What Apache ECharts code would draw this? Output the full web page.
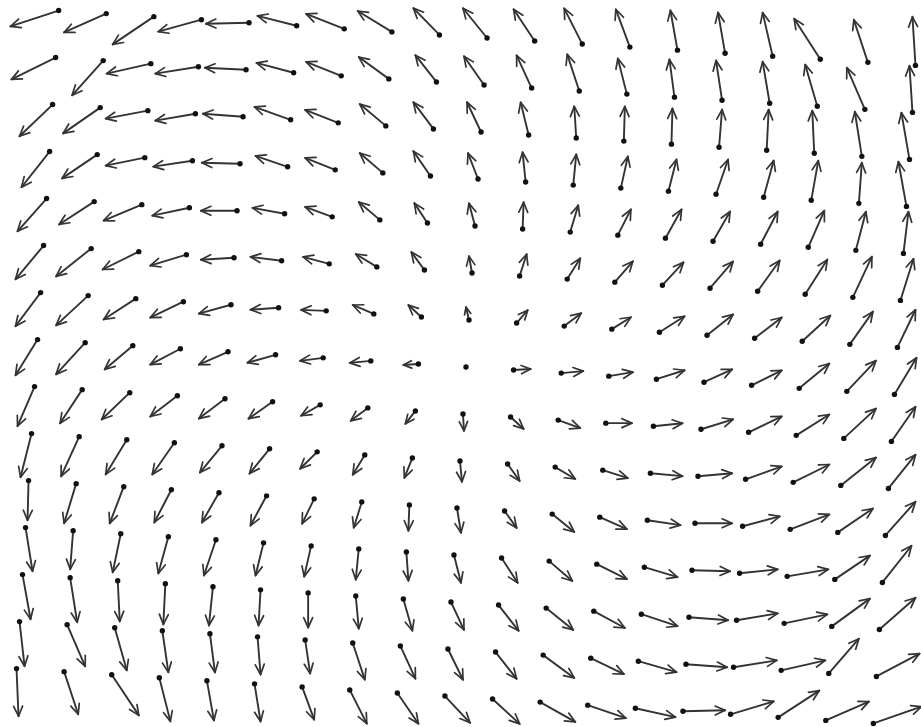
<!DOCTYPE html>
<html><head><meta charset="utf-8">
<script src="https://cdn.jsdelivr.net/npm/echarts@6/dist/echarts.min.js"></script>
<style>html,body{margin:0;padding:0;background:#fff}#c{width:921px;height:727px}</style>
</head><body><div id="c"></div>
<script>
// grid positions (columns left->right, rows top->bottom)
const xs = [-9,-8,-7,-6,-5,-4,-3,-2,-1,0,1,2,3,4,5,6,7,8,9];
const ys = [7,6,5,4,3,2,1,0,-1,-2,-3,-4,-5,-6,-7];

// horizontal components (rows top->bottom, columns left->right)
const U = [
[-48,-42,-41,-43,-43,-39,-38,-34,-26,-24,-21,-18,-14,-7,-7,-10,-26,-14,-3],
[-44,-31,-44,-43,-41,-37,-35,-30,-21,-20,-15,-12,-9,-5,-6,-7,-12,-18,-3],
[-33,-37,-42,-40,-40,-36,-33,-26,-20,-14,-8,-2,1,1,3,2,-2,-7,-8],
[-28,-35,-39,-39,-38,-32,-30,-23,-17,-10,-3,3,7,8,12,10,7,3,-8],
[-29,-35,-38,-37,-36,-32,-27,-21,-13,-6,1,8,13,16,17,17,16,10,5],
[-28,-35,-36,-36,-33,-31,-26,-21,-13,-3,7,13,18,21,23,22,22,19,13],
[-25,-32,-32,-33,-32,-28,-25,-21,-13,-3,11,17,19,25,26,27,28,23,18],
[-22,-29,-28,-30,-29,-28,-23,-21,-15,0,17,22,24,28,28,30,30,29,22],
[-17,-22,-28,-27,-26,-24,-19,-17,-10,1,13,22,26,29,32,33,33,32,24],
[-11,-18,-21,-22,-22,-20,-17,-12,-8,2,12,20,25,32,34,36,36,35,27],
[-1,-12,-14,-17,-17,-16,-12,-8,-1,4,12,22,27,33,37,37,39,35,30],
[7,-3,-8,-10,-12,-8,-7,-3,2,7,16,23,30,33,38,38,41,35,29],
[8,7,2,-2,-4,-2,0,3,9,13,20,27,31,36,39,41,43,38,36],
[5,18,12,6,5,3,5,12,15,15,21,31,33,38,41,43,44,30,43],
[2,14,27,11,7,6,12,17,21,25,27,35,38,40,42,43,41,43,48]
];
// vertical components (upward positive)
const V = [
[-16,-19,-28,-12,-1,10,15,21,27,30,32,36,38,40,41,44,41,43,49],
[-22,-35,-10,-7,2,10,14,22,27,29,33,37,36,38,40,42,42,42,47],
[-32,-26,-8,-7,3,13,13,22,27,30,33,32,35,36,38,41,43,45,47],
[-36,-24,-8,-6,1,11,12,20,25,26,30,31,32,32,35,37,40,41,45],
[-33,-23,-16,-8,0,6,10,18,20,23,27,27,26,29,30,33,37,39,42],
[-34,-28,-18,-11,-2,4,7,13,18,17,22,21,21,23,27,31,35,41,42],
[-34,-30,-21,-16,-9,-2,1,9,12,13,13,13,12,16,21,21,26,33,38],
[-36,-32,-24,-16,-13,-8,-3,-2,-1,0,1,2,4,9,13,15,25,31,37],
[-40,-34,-27,-21,-20,-17,-11,-13,-13,-17,-12,-8,0,3,10,16,21,30,35],
[-44,-40,-35,-32,-27,-25,-17,-20,-20,-21,-17,-12,-8,-3,3,13,18,28,34],
[-40,-40,-37,-33,-30,-30,-25,-26,-26,-25,-17,-18,-12,-5,0,10,15,24,34],
[-44,-39,-39,-37,-36,-33,-31,-31,-29,-28,-25,-20,-15,-10,-1,4,7,24,37],
[-45,-45,-41,-41,-39,-36,-35,-33,-32,-28,-26,-22,-17,-12,-3,7,9,28,32],
[-45,-42,-43,-42,-39,-38,-34,-37,-33,-31,-27,-23,-16,-11,-3,7,10,35,23],
[-48,-43,-41,-44,-40,-38,-33,-34,-31,-27,-25,-20,-13,-9,1,13,27,19,17]
];

const data = [];
for (let r = 0; r < ys.length; r++) {
  for (let c = 0; c < xs.length; c++) {
    data.push([xs[c], ys[r], U[r][c], V[r][c]]);
  }
}

const SCALE = 1 / 47.5;        // arrow length (grid cells) per unit
const TILT = Math.atan(0.064); // slight skew of the printed page
const HEAD = 11, HEAD_ANG = 0.42;
const INK = '#333333';

const chart = echarts.init(document.getElementById('c'), null, {renderer: 'canvas'});
chart.setOption({
  backgroundColor: '#ffffff',
  animation: false,
  grid: {left: 12.85, top: 13.75, width: 906.3, height: 706.5, containLabel: false},
  xAxis: {type: 'value', min: -9.5, max: 9.5, show: false},
  yAxis: {type: 'value', min: -7.5, max: 7.5, show: false},
  series: [{
    type: 'custom',
    clip: false,
    data: data,
    renderItem: function (params, api) {
      const x = api.value(0), y = api.value(1), u = api.value(2), v = api.value(3);
      const c0 = api.coord([0, 0]);
      const p = api.coord([x, y]);
      const cell = api.size([1, 1]);
      const cs = Math.cos(TILT), sn = Math.sin(TILT);
      const ox = p[0] - c0[0], oy = p[1] - c0[1];
      const tx = c0[0] + cs * ox - sn * oy;
      const ty = c0[1] + sn * ox + cs * oy;
      const hx = tx + u * SCALE * cell[0];
      const hy = ty - v * SCALE * cell[1];
      const children = [];
      const len = Math.hypot(hx - tx, hy - ty);
      if (len > 0.5) {
        const a = Math.atan2(hy - ty, hx - tx);
        const L = Math.min(HEAD, len * 0.6);
        const l1 = [hx + L * Math.cos(a + Math.PI - HEAD_ANG), hy + L * Math.sin(a + Math.PI - HEAD_ANG)];
        const l2 = [hx + L * Math.cos(a + Math.PI + HEAD_ANG), hy + L * Math.sin(a + Math.PI + HEAD_ANG)];
        children.push({type: 'line', shape: {x1: tx, y1: ty, x2: hx, y2: hy},
          style: {stroke: INK, lineWidth: 1.9, lineCap: 'round'}});
        children.push({type: 'polyline', shape: {points: [l1, [hx, hy], l2]},
          style: {stroke: INK, lineWidth: 1.7, fill: null, lineJoin: 'round', lineCap: 'round'}});
      }
      children.push({type: 'circle', shape: {cx: tx, cy: ty, r: 2.7}, style: {fill: '#111111'}});
      return {type: 'group', children: children};
    }
  }]
});
</script>
</body></html>
